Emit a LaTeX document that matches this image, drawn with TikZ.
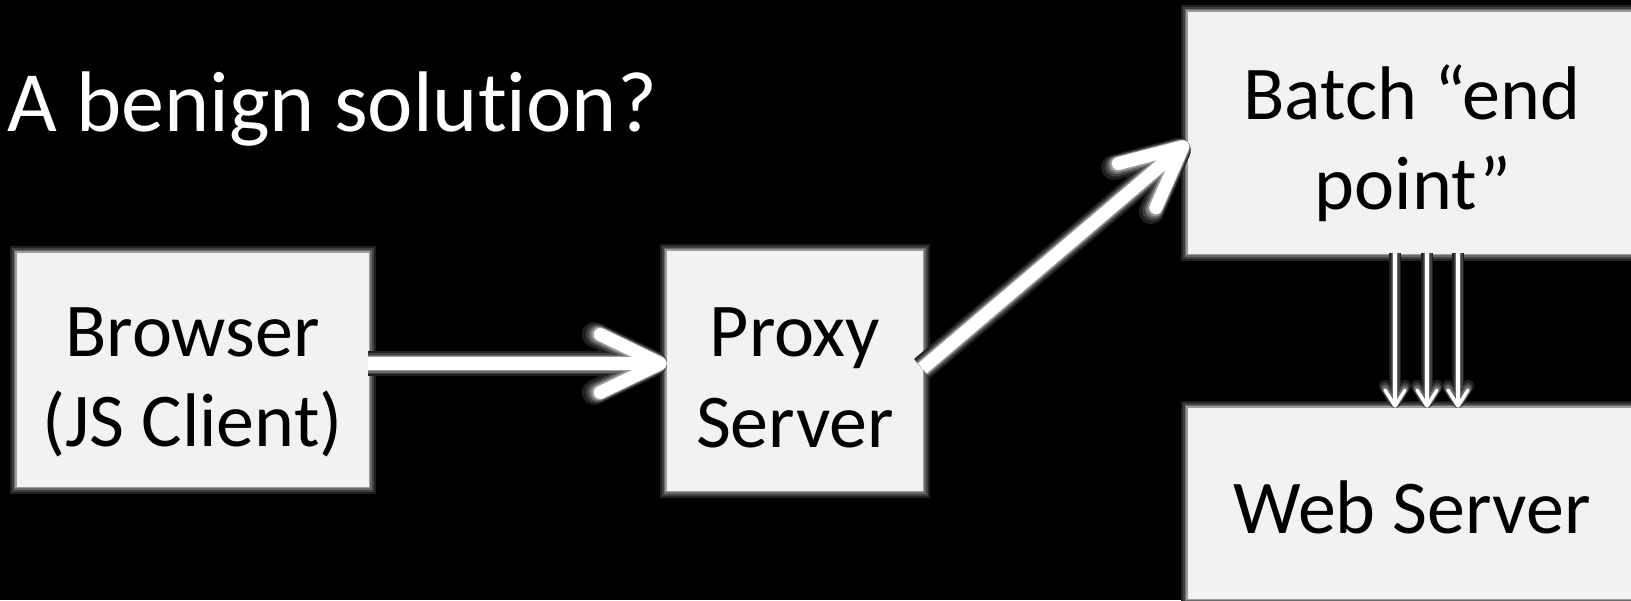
\documentclass[tikz,border=0pt]{standalone}
\usepackage{fontspec}
\setmainfont{Carlito}[Ligatures=NoCommon]
\usetikzlibrary{arrows.meta}
\definecolor{boxfill}{HTML}{F2F2F2}
\definecolor{glowA}{HTML}{202020}
\definecolor{glowB}{HTML}{404040}
\definecolor{glowC}{HTML}{6A6A6A}
\definecolor{glowD}{HTML}{9C9C9C}
\begin{document}
\begin{tikzpicture}[x=1pt,y=-1pt,
  box/.style={fill=boxfill, draw=boxfill, line width=0.5pt, inner sep=0pt,
    preaction={draw=glowA, line width=15pt},
    preaction={draw=glowB, line width=11pt},
    preaction={draw=glowC, line width=7pt},
    preaction={draw=glowD, line width=3.5pt}},
  lbl/.style={inner sep=0pt, anchor=base, font=\fontsize{76}{90}\selectfont, text=black},
  bigtip/.style={-{Straight Barb[length=60pt,width=58pt,round]}},
  bigA/.style={bigtip, draw=glowA, line width=25pt},
  bigB/.style={bigtip, draw=glowB, line width=21pt},
  bigC/.style={bigtip, draw=glowC, line width=18pt},
  bigD/.style={bigtip, draw=glowD, line width=15.5pt},
  bigarrow/.style={bigtip, draw=white, line width=13pt},
  smalltip/.style={-{Straight Barb[length=16pt,width=20pt,round]}},
  smallA/.style={smalltip, draw=glowA, line width=12pt},
  smallB/.style={smalltip, draw=glowB, line width=9pt},
  smallC/.style={smalltip, draw=glowC, line width=6.5pt},
  smallarrow/.style={smalltip, draw=white, line width=3.5pt}
]
\fill[black] (0,0) rectangle (1631,600);
\useasboundingbox (0,0) rectangle (1631,600);

% boxes
\node[box, minimum width=351pt, minimum height=233pt] (browser) at (192.5,369.5) {};
\node[box, minimum width=255pt, minimum height=239pt] (proxy) at (794.5,370.5) {};
\node[box, minimum width=452pt, minimum height=241pt] (batch) at (1414,132.5) {};
\node[box, minimum width=452pt, minimum height=190pt] (web) at (1414,503) {};

% title
\node[inner sep=0pt, anchor=base west, font=\fontsize{86}{100}\selectfont, text=white] (title) at (7,131) {A benign solution?};

% labels
\node[lbl] (browserA) at (192.5,356) {Browser};
\node[lbl] (browserB) at (192.5,446) {(JS Client)};
\node[lbl] (proxyA) at (795,356) {Proxy};
\node[lbl] (proxyB) at (795,447) {Server};
\node[lbl] (batchA) at (1412,119) {Batch “end};
\node[lbl] (batchB) at (1413,209) {point”};
\node[lbl] (webA) at (1412,533) {Web Server};

% big arrows
\foreach \s in {bigA,bigB,bigC,bigD,bigarrow}{
  \draw[\s] ([yshift=6pt]browser.east) -- ([yshift=7pt]proxy.west);
  \draw[\s] ([yshift=2pt]proxy.east) -- ([yshift=-10pt]batch.west);
}
% thin arrows
\foreach \s in {smallA,smallB,smallC,smallarrow}{
  \foreach \dx in {-19,13,44}{
    \draw[\s] ([xshift=\dx pt]batch.south) -- ([xshift=\dx pt]web.north);
  }
}
\end{tikzpicture}
\end{document}
